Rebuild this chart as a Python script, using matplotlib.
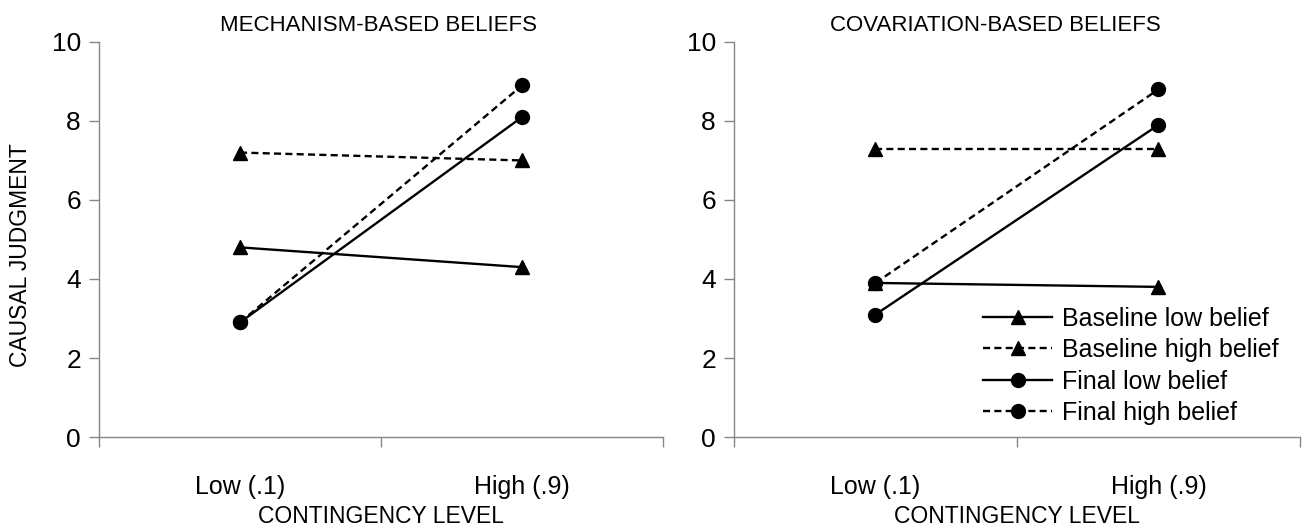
import matplotlib
matplotlib.use("Agg")
import matplotlib.pyplot as plt
from matplotlib.ticker import FixedLocator, NullFormatter

plt.rcParams['font.family'] = ['Liberation Sans', 'DejaVu Sans']

categories = ["Low (.1)", "High (.9)"]
series_names = ["Baseline low belief", "Baseline high belief", "Final low belief", "Final high belief"]

mech_baseline_low = [4.8, 4.3]
mech_baseline_high = [7.2, 7.0]
mech_final_low = [2.9, 8.1]
mech_final_high = [2.9, 8.9]

cov_baseline_low = [3.9, 3.8]
cov_baseline_high = [7.3, 7.3]
cov_final_low = [3.1, 7.9]
cov_final_high = [3.9, 8.8]

panel_titles = ["MECHANISM-BASED BELIEFS", "COVARIATION-BASED BELIEFS"]
y_ticks = [0, 2, 4, 6, 8, 10]

styles = [
    dict(marker='^', linestyle='-', markersize=10),
    dict(marker='^', linestyle=(0, (3, 1.8)), markersize=10),
    dict(marker='o', linestyle='-', markersize=10),
    dict(marker='o', linestyle=(0, (3, 1.8)), markersize=10),
]

fig = plt.figure(figsize=(13.09, 5.31), dpi=100)
ax1 = fig.add_axes([0.0756, 0.177, 0.431, 0.744])
ax2 = fig.add_axes([0.5607, 0.177, 0.4324, 0.744])

panels = [
    (ax1, [mech_baseline_low, mech_baseline_high, mech_final_low, mech_final_high]),
    (ax2, [cov_baseline_low, cov_baseline_high, cov_final_low, cov_final_high]),
]

xpos = [0.5, 1.5]
title_x = [0.495, 0.461]
spine_color = '#868686'
for i, (ax, data) in enumerate(panels):
    for name, vals, st in zip(series_names, data, styles):
        ax.plot(xpos, vals, color='black', linewidth=1.7, label=name, **st)
    ax.set_xlim(0, 2)
    ax.set_ylim(0, 10)
    ax.set_yticks(y_ticks)
    ax.tick_params(axis='y', labelsize=19, length=7, width=1, color=spine_color, pad=6)
    ax.xaxis.set_major_locator(FixedLocator([0, 1, 2]))
    ax.xaxis.set_major_formatter(NullFormatter())
    ax.xaxis.set_minor_locator(FixedLocator(xpos))
    ax.set_xticks(xpos, categories, minor=True)
    ax.tick_params(axis='x', which='major', length=7, width=1, color=spine_color, direction='out')
    ax.tick_params(axis='x', which='minor', length=0, labelsize=18, pad=27)
    for s in ['top', 'right']:
        ax.spines[s].set_visible(False)
    for s in ['left', 'bottom']:
        ax.spines[s].set_color(spine_color)
        ax.spines[s].set_linewidth(1)
    ax.set_xlabel("CONTINGENCY LEVEL", fontsize=16.5, labelpad=5)
    ax.set_title(panel_titles[i], fontsize=16, pad=8, x=title_x[i])

ax1.set_ylabel("CAUSAL JUDGMENT", fontsize=16.5)
ax1.yaxis.set_label_coords(-0.118, 0.46)

ax2.legend(loc='upper left', bbox_to_anchor=(0.44, 0.33), frameon=False, fontsize=18,
           handlelength=2.76, handletextpad=0.4, labelspacing=0.3, borderpad=0,
           borderaxespad=0)

fig.savefig("out.png", dpi=100)
